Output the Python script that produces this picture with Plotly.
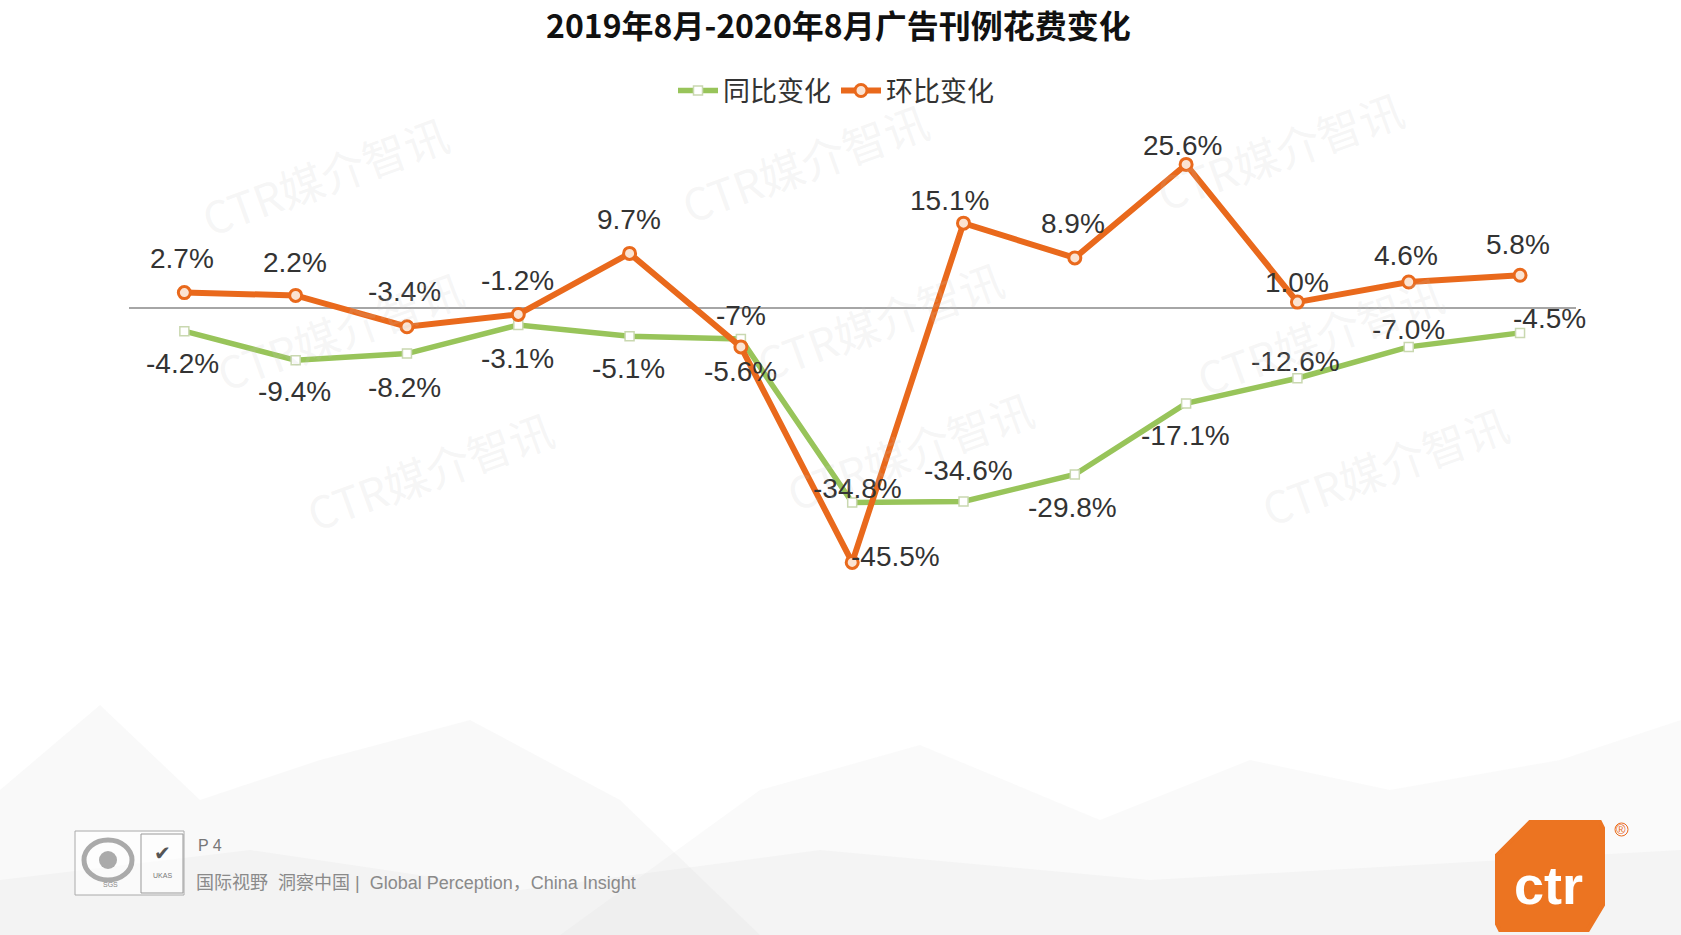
import plotly.graph_objects as go

W, H = 1681, 935

# ---------------- data ----------------
months = ["2019-08", "2019-09", "2019-10", "2019-11", "2019-12", "2020-01", "2020-02",
          "2020-03", "2020-04", "2020-05", "2020-06", "2020-07", "2020-08"]
yoy = [-4.2, -9.4, -8.2, -3.1, -5.1, -5.6, -34.8, -34.6, -29.8, -17.1, -12.6, -7.0, -4.5]
mom = [2.7, 2.2, -3.4, -1.2, 9.7, -7, -45.5, 15.1, 8.9, 25.6, 1.0, 4.6, 5.8]
yoy_labels = ["-4.2%", "-9.4%", "-8.2%", "-3.1%", "-5.1%", "-5.6%", "-34.8%", "-34.6%",
              "-29.8%", "-17.1%", "-12.6%", "-7.0%", "-4.5%"]
mom_labels = ["2.7%", "2.2%", "-3.4%", "-1.2%", "9.7%", "-7%", "-45.5%", "15.1%", "8.9%",
              "25.6%", "1.0%", "4.6%", "5.8%"]
series_names = ["同比变化", "环比变化"]

# label offsets (style): (dx, dy) in pixels, dy positive = downwards
mom_off = [(-2, -34), (-1, -33), (-2, -35), (-1, -34), (-1, -34), (0, -31), (43, -6),
           (-14, -23), (-2, -34), (-4, -19), (0, -20), (-3, -26), (-2, -31)]
yoy_off = [(-2, 32), (-1, 31), (-2, 34), (-1, 33), (-1, 32), (0, 32), (5, -14),
           (5, -31), (-2, 33), (-1, 32), (-2, -17), (0, -17), (29, -14)]

GREEN = "#98C45A"
ORANGE = "#E9691C"


def px(x, y):
    return x / W, 1 - y / H


fig = go.Figure()

fig.add_trace(go.Scatter(
    x=months, y=yoy, name=series_names[0], mode="lines+markers",
    line=dict(color=GREEN, width=5.5),
    marker=dict(symbol="square", size=9, color="white", line=dict(color="#C9D8B0", width=1.5)),
))
fig.add_trace(go.Scatter(
    x=months, y=mom, name=series_names[1], mode="lines+markers",
    line=dict(color=ORANGE, width=6),
    marker=dict(symbol="circle", size=12, color="#FBE3D2", line=dict(color=ORANGE, width=3)),
))

annotations = []
LBL_FONT = dict(family="Liberation Sans, Arial", size=28, color="#333333")
for m, v, t, (dx, dy) in zip(months, mom, mom_labels, mom_off):
    annotations.append(dict(x=m, y=v, xref="x", yref="y", text=t, showarrow=False,
                            xanchor="center", yanchor="middle",
                            xshift=dx, yshift=-dy, font=LBL_FONT))
for m, v, t, (dx, dy) in zip(months, yoy, yoy_labels, yoy_off):
    annotations.append(dict(x=m, y=v, xref="x", yref="y", text=t, showarrow=False,
                            xanchor="center", yanchor="middle",
                            xshift=dx, yshift=-dy, font=LBL_FONT))


def paper_text(x, y, text, font, xanchor="center", angle=0):
    X, Y = px(x, y)
    return dict(x=X, y=Y, xref="paper", yref="paper", text=text, showarrow=False,
                xanchor=xanchor, yanchor="middle", textangle=angle, font=font)


# watermarks
for (wx, wy) in [(325, 175), (805, 162), (1280, 150), (430, 470), (910, 450), (1385, 465),
                 (880, 320), (1320, 335), (340, 330)]:
    annotations.append(paper_text(wx, wy, "CTR媒介智讯",
                                  dict(family="Noto Sans CJK SC", size=44, color="rgba(200,200,200,0.18)"),
                                  angle=-20))

# title
annotations.append(paper_text(838, 24, "<b>2019年8月-2020年8月广告刊例花费变化</b>",
                              dict(family="Noto Sans CJK SC", size=32, color="#111111")))

# footer
annotations.append(paper_text(196, 845, "P 4", dict(family="Liberation Sans, Arial", size=16, color="#777777"),
                              xanchor="left"))
annotations.append(paper_text(194, 883, "国际视野  洞察中国 |  Global Perception，China Insight",
                              dict(family="Liberation Sans, Noto Sans CJK SC", size=18, color="#8a8a8a"),
                              xanchor="left"))
annotations.append(paper_text(110, 884, "SGS", dict(family="Liberation Sans", size=7, color="#888888")))
annotations.append(paper_text(162, 853, "✔", dict(family="DejaVu Sans", size=20, color="#555555")))
annotations.append(paper_text(162, 875, "UKAS", dict(family="Liberation Sans", size=7, color="#777777")))
# ctr logo text
annotations.append(paper_text(1548, 885, "<b>ctr</b>", dict(family="Liberation Sans, Arial", size=54, color="white")))
annotations.append(paper_text(1621, 829, "®", dict(family="Liberation Sans", size=13, color=ORANGE)))

shapes = []


def poly(points, fill):
    d = "M " + " L ".join(f"{px(a, b)[0]:.5f},{px(a, b)[1]:.5f}" for a, b in points) + " Z"
    return dict(type="path", xref="paper", yref="paper", path=d, fillcolor=fill,
                line=dict(width=0), layer="below")


# very faint grey background mountains
shapes.append(poly([(0, 935), (0, 790), (100, 705), (200, 800), (320, 760), (470, 720),
                    (620, 800), (760, 935)], "rgba(215,215,215,0.14)"))
shapes.append(poly([(560, 935), (760, 790), (920, 745), (1100, 820), (1250, 760), (1390, 790),
                    (1560, 760), (1681, 720), (1681, 935)], "rgba(215,215,215,0.12)"))
shapes.append(poly([(0, 935), (0, 880), (250, 850), (520, 890), (820, 850), (1150, 880),
                    (1681, 850), (1681, 935)], "rgba(205,205,205,0.12)"))

# footer cert box
x0, y0 = px(75, 831)
x1, y1 = px(184, 895)
shapes.append(dict(type="rect", xref="paper", yref="paper", x0=x0, y0=y1, x1=x1, y1=y0,
                   line=dict(color="#aaaaaa", width=1), fillcolor="rgba(255,255,255,0.6)"))
x0, y0 = px(141, 834)
x1, y1 = px(183, 893)
shapes.append(dict(type="rect", xref="paper", yref="paper", x0=x0, y0=y1, x1=x1, y1=y0,
                   line=dict(color="#999999", width=1)))
x0, y0 = px(84, 840)
x1, y1 = px(132, 880)
shapes.append(dict(type="circle", xref="paper", yref="paper", x0=x0, y0=y1, x1=x1, y1=y0,
                   line=dict(color="#aaaaaa", width=5)))
x0, y0 = px(99, 851)
x1, y1 = px(117, 869)
shapes.append(dict(type="circle", xref="paper", yref="paper", x0=x0, y0=y1, x1=x1, y1=y0,
                   fillcolor="#aaaaaa", line=dict(width=0)))

# ctr logo body (chamfered corners)
shapes.append(dict(type="path", xref="paper", yref="paper", layer="below",
                   path="M " + " L ".join(f"{px(a, b)[0]:.5f},{px(a, b)[1]:.5f}" for a, b in
                                          [(1530, 822), (1600, 822), (1603, 828), (1603, 905),
                                           (1588, 930), (1500, 930), (1497, 924), (1497, 855)]) + " Z",
                   fillcolor="#EC7421", line=dict(color="#EC7421", width=4)))
x0, y0 = px(1615, 823)
x1, y1 = px(1628, 836)
shapes.append(dict(type="circle", xref="paper", yref="paper", x0=x0, y0=y1, x1=x1, y1=y0,
                   line=dict(color=ORANGE, width=1)))

# plot area geometry
left, right = 128.7, 1575.7
top, bottom = 100, 700
zero_y = 307.7
ppu = 5.598
y_top = (zero_y - top) / ppu
y_bot = -(bottom - zero_y) / ppu

fig.update_layout(
    width=W, height=H,
    margin=dict(l=0, r=0, t=0, b=0),
    paper_bgcolor="white", plot_bgcolor="rgba(0,0,0,0)",
    showlegend=True,
    legend=dict(orientation="h", x=px(836, 0)[0], xanchor="center", y=px(0, 91)[1], yanchor="middle",
                font=dict(family="Noto Sans CJK SC", size=27, color="#333333"),
                bgcolor="rgba(0,0,0,0)", itemwidth=40),
    xaxis=dict(domain=[left / W, right / W], range=[-0.5, 12.5], type="category",
               visible=False, showgrid=False),
    yaxis=dict(domain=[1 - bottom / H, 1 - top / H], range=[y_bot, y_top], showgrid=False,
               showticklabels=False, zeroline=True, zerolinecolor="#A6A6A6", zerolinewidth=2,
               showline=False, ticks=""),
    annotations=annotations,
    shapes=shapes,
)

fig.write_html("out.html", config={"displayModeBar": False},
               post_script="document.body.style.margin='0';document.body.style.overflow='hidden';")
